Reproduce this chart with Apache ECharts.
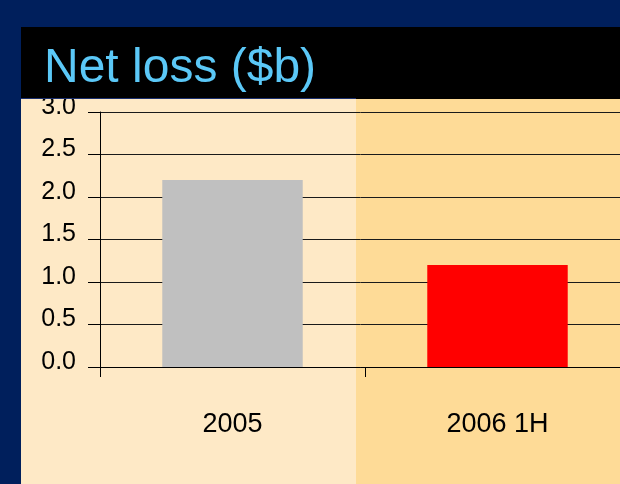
<!DOCTYPE html>
<html>
<head>
<meta charset="utf-8">
<script src="https://cdn.jsdelivr.net/npm/echarts@6/dist/echarts.min.js"></script>
<style>
html,body{margin:0;padding:0;background:#001f5c;}
#chart{width:620px;height:484px;}
</style>
</head>
<body>
<div id="chart"></div>
<script>
var categories = ['2005', '2006 1H'];
var netLoss = [2.2, 1.2];
var barColors = ['#c0c0c0', '#ff0000'];
var yTicks = { min: 0, max: 3, step: 0.5 };

var font = "'Liberation Sans', Arial, sans-serif";
var myChart = echarts.init(document.getElementById('chart'));

var barData = [];
for (var i = 0; i < netLoss.length; i++) {
    barData.push({ value: netLoss[i], itemStyle: { color: barColors[i] } });
}

var option = {
    backgroundColor: '#001f5c',
    animation: false,
    title: {
        text: 'Net loss ($b)',
        left: 44,
        top: 45,
        padding: 0,
        z: 300,
        textStyle: {
            color: '#5bc8f7',
            fontSize: 48,
            fontWeight: 'normal',
            fontFamily: font
        }
    },
    graphic: [
        // panels behind the plot
        { type: 'rect', z: -10, shape: { x: 21, y: 99, width: 335, height: 385 }, style: { fill: '#fee9c6' } },
        { type: 'rect', z: -10, shape: { x: 356, y: 99, width: 264, height: 385 }, style: { fill: '#fedb97' } },
        // title bar on top (hides part of the 3.0 label)
        { type: 'rect', z: 200, shape: { x: 21, y: 27, width: 599, height: 72 }, style: { fill: '#000000' } },
        { type: 'rect', z: 200, shape: { x: 21, y: 98, width: 335, height: 1 }, style: { fill: '#1a2f6e' } }
    ],
    grid: {
        left: 100,
        top: 112,
        width: 530,
        height: 255,
        outerBoundsMode: 'none'
    },
    xAxis: {
        type: 'category',
        data: categories,
        boundaryGap: true,
        axisLine: { show: true, lineStyle: { color: '#000', width: 1 } },
        axisTick: { show: true, length: 10, alignWithLabel: false, lineStyle: { color: '#000' } },
        axisLabel: {
            margin: 44,
            color: '#000',
            fontSize: 27,
            fontFamily: font
        }
    },
    yAxis: {
        type: 'value',
        min: yTicks.min,
        max: yTicks.max,
        interval: yTicks.step,
        axisLine: { show: true, lineStyle: { color: '#000', width: 1 } },
        axisTick: { show: true, length: 12, lineStyle: { color: '#000' } },
        splitLine: { show: true, lineStyle: { color: '#1a1a1a', width: 1 } },
        axisLabel: {
            margin: 24,
            color: '#000',
            fontSize: 25,
            fontFamily: font,
            verticalAlign: 'bottom',
            lineHeight: 10,
            formatter: function (v) { return v.toFixed(1); }
        }
    },
    series: [{
        type: 'bar',
        data: barData,
        barWidth: '53%'
    }]
};
myChart.setOption(option);
</script>
</body>
</html>
